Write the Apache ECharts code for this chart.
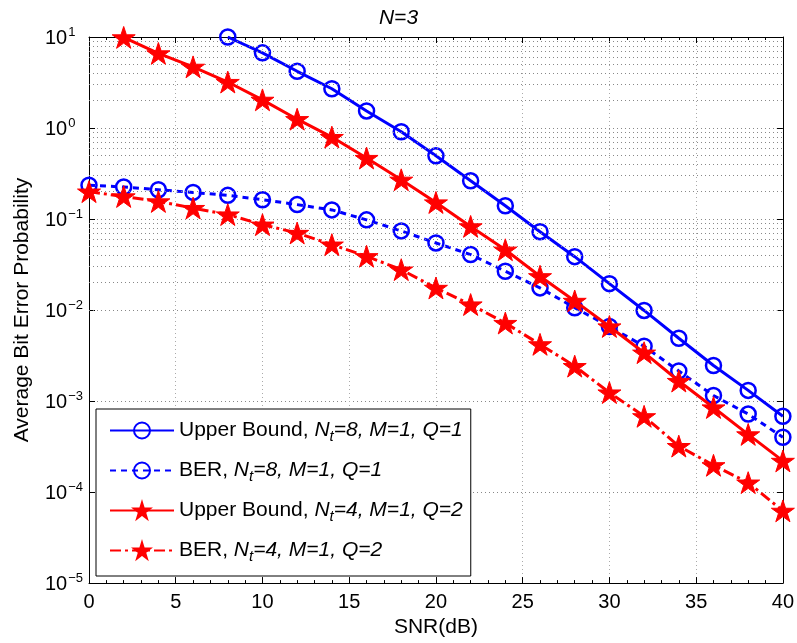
<!DOCTYPE html>
<html><head><meta charset="utf-8">
<script src="https://cdn.jsdelivr.net/npm/echarts@6/dist/echarts.min.js"></script>
<style>html,body{margin:0;padding:0;background:#fff}#c{width:797px;height:643px}</style>
</head><body><div id="c"></div>
<script>
// ---- data ----
const snrUB8 = [8,10,12,14,16,18,20,22,24,26,28,30,32,34,36,38,40];
const ub8 = [10,6.7,4.2,2.7,1.54,0.91,0.495,0.263,0.14,0.0726,0.0386,0.0195,0.0099,0.0049,0.00246,0.00131,0.00068];
const snrBer8 = [0,2,4,6,8,10,12,14,16,18,20,22,24,26,28,30,32,34,36,38,40];
const ber8 = [0.235,0.225,0.21,0.196,0.182,0.163,0.144,0.126,0.098,0.074,0.0546,0.0407,0.0267,0.0175,0.0106,0.0066,0.0040,0.00214,0.00115,0.00072,0.0004];
const snrUB4 = [2,4,6,8,10,12,14,16,18,20,22,24,26,28,30,32,34,36,38,40];
const ub4 = [9.9,6.6,4.7,3.2,2.04,1.25,0.795,0.468,0.27,0.152,0.083,0.046,0.0235,0.0126,0.0066,0.0034,0.00166,0.00085,0.00043,0.00022];
const snrBer4 = [0,2,4,6,8,10,12,14,16,18,20,22,24,26,28,30,32,34,36,38,40];
const ber4 = [0.2,0.177,0.156,0.132,0.112,0.0867,0.0703,0.0523,0.039,0.0278,0.0175,0.0115,0.0072,0.0042,0.00242,0.00124,0.00068,0.00032,0.000197,0.000127,0.0000622];
const seriesNames = ['UB8','BER8','UB4','BER4'];
const legendTexts = {
  UB8: 'Upper Bound, {i|N}{s|t}{i|=8, M=1, Q=1}',
  BER8: 'BER, {i|N}{s|t}{i|=8, M=1, Q=1}',
  UB4: 'Upper Bound, {i|N}{s|t}{i|=4, M=1, Q=2}',
  BER4: 'BER, {i|N}{s|t}{i|=4, M=1, Q=2}'
};
const minorMult = [2,3,4,5,6,7,8,9];
const decades = [-5,-4,-3,-2,-1,0];
// ---- end data ----

const minorGrid = [];
decades.forEach(d => minorMult.forEach(m => minorGrid.push({yAxis: m * Math.pow(10, d)})));

const FONT = '"Liberation Sans", Arial, sans-serif';
const STAR = 'path://M50,0 L61.8,36.2 L100,36.2 L69.1,58.6 L80.9,95 L50,72.4 L19.1,95 L30.9,58.6 L0,36.2 L38.2,36.2 Z';
const BLUE = '#0000ff', RED = '#ff0000';
const pair = (xs, ys) => xs.map((x, i) => [x, ys[i]]);
function logLabel(v){
  const e = Math.round(Math.log10(v));
  return '{b|10}{s|' + String(e).replace('-', '\u2212') + '}';
}

const chart = echarts.init(document.getElementById('c'), null, {renderer:'canvas'});
chart.setOption({
  animation: false,
  backgroundColor: '#fff',
  title: {
    text: 'N=3', left: 'center', top: 3,
    textStyle: {fontFamily: FONT, fontSize: 21, fontWeight: 'normal', fontStyle: 'italic', color: '#000'}
  },
  grid: {left: 89, right: 13, top: 37, bottom: 59, containLabel: false},
  xAxis: [{
    type: 'value', min: 0, max: 40, interval: 5,
    name: 'SNR(dB)', nameLocation: 'middle', nameGap: 33,
    nameTextStyle: {fontFamily: FONT, fontSize: 21, color: '#000'},
    axisLine: {show: true, lineStyle: {color: '#000', width: 1}},
    axisTick: {show: true, inside: true, length: 6, lineStyle: {color: '#000'}},
    minorTick: {show: true, splitNumber: 5, length: 3, lineStyle: {color: '#000'}},
    axisLabel: {fontFamily: FONT, fontSize: 20, color: '#000', margin: 9},
    splitLine: {show: true, lineStyle: {color: '#aaa', type: [1, 3], width: 1}}
  }, {
    type: 'value', min: 0, max: 40, interval: 5, position: 'top',
    axisLine: {show: true, onZero: false, lineStyle: {color: '#000', width: 1}},
    axisTick: {show: true, inside: true, length: 6, lineStyle: {color: '#000'}},
    minorTick: {show: true, splitNumber: 5, length: 3, lineStyle: {color: '#000'}},
    axisLabel: {show: false}, splitLine: {show: false}
  }],
  yAxis: [{
    type: 'log', logBase: 10, min: 1e-5, max: 10, interval: 1,
    name: 'Average Bit Error Probability', nameLocation: 'middle', nameGap: 56,
    nameTextStyle: {fontFamily: FONT, fontSize: 21, color: '#000'},
    axisLine: {show: true, lineStyle: {color: '#000', width: 1}},
    axisTick: {show: true, inside: true, length: 6, lineStyle: {color: '#000'}},
    axisLabel: {
      formatter: logLabel, margin: 44, align: 'left',
      rich: {
        b: {fontFamily: FONT, fontSize: 20, color: '#000', lineHeight: 22, verticalAlign: 'bottom'},
        s: {fontFamily: FONT, fontSize: 13, color: '#000', lineHeight: 22, verticalAlign: 'top', padding: [0,0,12,1]}
      }
    },
    splitLine: {show: true, lineStyle: {color: '#888', type: [1, 3], width: 1}}
  }, {
    type: 'log', logBase: 10, min: 1e-5, max: 10, interval: 1, position: 'right',
    axisLine: {show: true, onZero: false, lineStyle: {color: '#000', width: 1}},
    axisTick: {show: true, inside: true, length: 6, lineStyle: {color: '#000'}},
    axisLabel: {show: false}, splitLine: {show: false}
  }],
  legend: {
    data: seriesNames,
    orient: 'vertical', left: 96, top: 409,
    padding: [8, 8, 12, 13],
    itemGap: 13, itemWidth: 64, itemHeight: 20,
    backgroundColor: '#fff', borderColor: '#000', borderWidth: 1, borderRadius: 0,
    formatter: n => legendTexts[n],
    textStyle: {
      fontFamily: FONT, fontSize: 21, color: '#000', lineHeight: 24,
      rich: {
        i: {fontFamily: FONT, fontSize: 21, fontStyle: 'italic', color: '#000', lineHeight: 24},
        s: {fontFamily: FONT, fontSize: 15, fontStyle: 'italic', color: '#000', lineHeight: 24, padding: [12, 0, 0, 0]}
      }
    }
  },
  series: [{
    name: 'UB8', type: 'line', data: pair(snrUB8, ub8),
    symbol: 'circle', symbolSize: 15,
    lineStyle: {color: BLUE, width: 3, type: 'solid'},
    itemStyle: {color: 'rgba(0,0,0,0)', borderColor: BLUE, borderWidth: 2.5},
    z: 4,
    markLine: {
      silent: true, symbol: 'none', label: {show: false}, animation: false,
      lineStyle: {color: '#888', type: [1, 3], width: 1},
      data: minorGrid
    }
  }, {
    name: 'BER8', type: 'line', data: pair(snrBer8, ber8),
    symbol: 'circle', symbolSize: 15,
    lineStyle: {color: BLUE, width: 3, type: [6, 5]},
    itemStyle: {color: 'rgba(0,0,0,0)', borderColor: BLUE, borderWidth: 2.5},
    z: 4
  }, {
    name: 'UB4', type: 'line', data: pair(snrUB4, ub4),
    symbol: STAR, symbolSize: 23, symbolKeepAspect: true,
    lineStyle: {color: RED, width: 3, type: 'solid'},
    itemStyle: {color: RED, borderColor: RED, borderWidth: 1},
    z: 5
  }, {
    name: 'BER4', type: 'line', data: pair(snrBer4, ber4),
    symbol: STAR, symbolSize: 23, symbolKeepAspect: true,
    lineStyle: {color: RED, width: 3, type: [11, 4, 3, 4]},
    itemStyle: {color: RED, borderColor: RED, borderWidth: 1},
    z: 5
  }]
});
</script></body></html>
